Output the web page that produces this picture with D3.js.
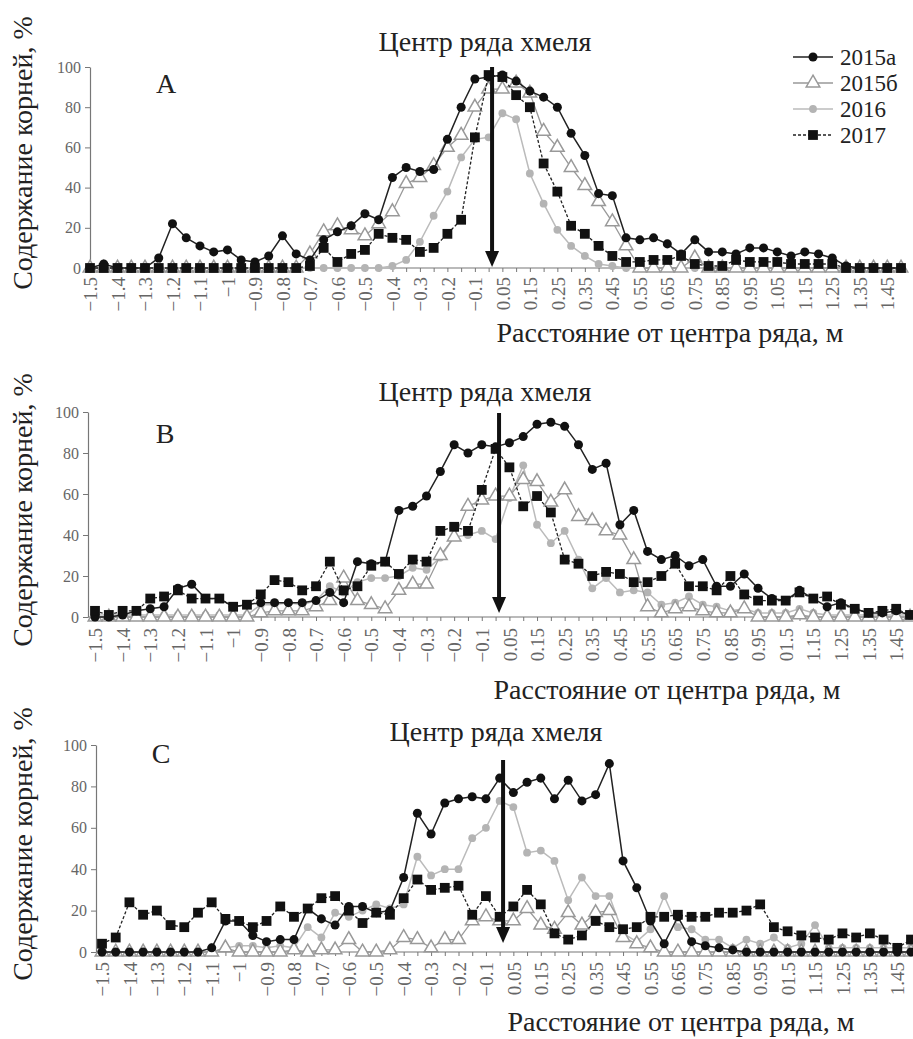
<!DOCTYPE html>
<html>
<head>
<meta charset="utf-8">
<script src="https://cdn.jsdelivr.net/npm/d3@7"></script>
<style>
body { margin: 0; background: #fff; }
svg { display: block; }
svg text { font-family: "Liberation Serif", serif; }
</style>
</head>
<body>
<svg id="chart" width="913" height="1039" font-family="Liberation Serif, serif"></svg>
<script>
// distance from the row centre, m (no zero point in the original table)
const distances = [-1.5, -1.45, -1.4, -1.35, -1.3, -1.25, -1.2, -1.15, -1.1, -1.05,
    -1.0, -0.95, -0.9, -0.85, -0.8, -0.75, -0.7, -0.65, -0.6, -0.55,
    -0.5, -0.45, -0.4, -0.35, -0.3, -0.25, -0.2, -0.15, -0.1, -0.05,
    0.05, 0.1, 0.15, 0.2, 0.25, 0.3, 0.35, 0.4, 0.45, 0.5,
    0.55, 0.6, 0.65, 0.7, 0.75, 0.8, 0.85, 0.9, 0.95, 1.0,
    1.05, 1.1, 1.15, 1.2, 1.25, 1.3, 1.35, 1.4, 1.45, 1.5];

const tickLabelsA = ["−1.5", "−1.4", "−1.3", "−1.2", "−1.1", "−1", "−0.9", "−0.8", "−0.7", "−0.6",
    "−0.5", "−0.4", "−0.3", "−0.2", "−0.1", "0.05", "0.15", "0.25", "0.35", "0.45",
    "0.55", "0.65", "0.75", "0.85", "0.95", "1.05", "1.15", "1.25", "1.35", "1.45"];
const tickLabelsBC = ["−1.5", "−1.4", "−1.3", "−1.2", "−1.1", "−1", "−0.9", "−0.8", "−0.7", "−0.6",
    "−0.5", "−0.4", "−0.3", "−0.2", "−0.1", "0.05", "0.15", "0.25", "0.35", "0.45",
    "0.55", "0.65", "0.75", "0.85", "0.95", "01.5", "1.15", "1.25", "1.35", "1.45"];
const yTicks = [0, 20, 40, 60, 80, 100];
const seriesNames = ["2015а", "2015б", "2016", "2017"];

// panel A
const a2015a = [0, 2, 0, 0, 0, 5, 22, 15, 11, 8, 9, 4, 3, 6, 16, 7, 4, 14, 18, 21,
    27, 24, 45, 50, 48, 49, 64, 80, 94, 95, 96, 93, 88, 85, 80, 67, 56, 37, 36, 15,
    14, 15, 12, 7, 14, 8, 8, 7, 10, 10, 8, 6, 8, 7, 5, 1, 0, 0, 0, 0];
const a2015b = [0, 0, 0, 0, 0, 0, 0, 0, 0, 0, 0, 0, 0, 0, 0, 0, 7, 18, 21, 19,
    16, 22, 28, 42, 45, 51, 60, 66, 80, 89, 89, 92, 87, 68, 60, 50, 41, 33, 23, 11,
    0, 0, 0, 0, 5, 0, 0, 0, 0, 0, 0, 0, 0, 0, 0, 0, 0, 0, 0, 0];
const a2016 = [0, 0, 0, 0, 0, 0, 0, 0, 0, 0, 0, 0, 0, 0, 0, 0, 0, 0, 0, 0,
    0, 0, 1, 4, 13, 26, 38, 55, 64, 65, 77, 74, 47, 32, 19, 11, 6, 2, 1, 0,
    0, 0, 0, 0, 0, 0, 0, 0, 0, 0, 0, 0, 0, 0, 0, 0, 0, 0, 0, 0];
const a2017 = [0, 0, 0, 0, 0, 0, 0, 0, 0, 0, 0, 0, 0, 0, 0, 0, 1, 10, 3, 7,
    9, 17, 15, 14, 8, 10, 17, 24, 65, 96, 95, 86, 80, 52, 38, 21, 17, 11, 6, 3,
    3, 4, 4, 6, 2, 1, 1, 4, 3, 3, 3, 2, 2, 2, 2, 0, 0, 0, 0, 0];

// panel B
const b2015a = [0, 0, 1, 3, 4, 5, 14, 16, 9, 9, 5, 6, 7, 7, 7, 7, 8, 12, 7, 27,
    26, 27, 52, 54, 59, 71, 84, 80, 84, 83, 85, 88, 94, 95, 93, 84, 72, 75, 45, 52,
    32, 28, 30, 25, 28, 15, 15, 21, 14, 9, 8, 13, 9, 5, 7, 4, 2, 2, 3, 1];
const b2015b = [0, 0, 0, 0, 0, 0, 0, 0, 0, 0, 0, 0, 2, 3, 3, 3, 5, 8, 19, 8,
    6, 4, 13, 16, 16, 30, 39, 54, 57, 59, 59, 67, 66, 56, 62, 49, 47, 42, 40, 28,
    5, 2, 4, 5, 3, 2, 2, 4, 0, 0, 0, 1, 0, 0, 0, 0, 0, 0, 0, 0];
const b2016 = [1, 1, 1, 1, 1, 1, 1, 1, 1, 1, 1, 1, 6, 6, 7, 6, 8, 15, 12, 17,
    19, 19, 20, 24, 23, 29, 39, 40, 42, 38, 58, 74, 45, 36, 42, 28, 14, 19, 12, 13,
    12, 6, 7, 10, 6, 5, 3, 4, 2, 2, 2, 4, 2, 1, 1, 1, 1, 1, 1, 1];
const b2017 = [3, 1, 3, 3, 9, 10, 13, 9, 9, 9, 5, 6, 11, 18, 17, 13, 15, 27, 13, 15,
    25, 27, 21, 28, 27, 42, 44, 42, 62, 82, 73, 54, 59, 51, 28, 26, 20, 22, 21, 17,
    17, 20, 26, 15, 15, 13, 20, 11, 8, 8, 8, 12, 9, 10, 6, 4, 2, 3, 4, 1];

// panel C
const c2015a = [0, 0, 0, 0, 0, 0, 0, 0, 2, 15, 15, 8, 5, 6, 6, 21, 16, 13, 22, 22,
    19, 20, 36, 67, 57, 72, 74, 75, 74, 84, 77, 82, 84, 74, 83, 73, 76, 91, 44, 31,
    15, 4, 17, 5, 3, 2, 1, 0, 0, 0, 0, 0, 0, 0, 0, 0, 0, 0, 0, 0];
const c2015b = [0, 0, 0, 0, 0, 0, 0, 0, 0, 2, 0, 0, 0, 0, 1, 0, 1, 1, 6, 0,
    0, 1, 7, 6, 2, 6, 6, 15, 17, 15, 15, 21, 13, 11, 19, 13, 19, 20, 7, 4,
    2, 0, 0, 0, 0, 0, 0, 0, 0, 0, 0, 0, 0, 0, 0, 0, 0, 0, 0, 0];
const c2016 = [0, 0, 0, 0, 0, 0, 0, 0, 0, 2, 3, 3, 2, 3, 2, 12, 7, 19, 17, 20,
    23, 21, 23, 46, 37, 40, 40, 55, 60, 73, 70, 48, 49, 44, 25, 36, 27, 27, 9, 5,
    11, 27, 12, 11, 6, 6, 2, 6, 4, 7, 2, 4, 13, 2, 2, 2, 2, 2, 2, 2];
const c2017 = [4, 7, 24, 18, 20, 13, 12, 19, 24, 16, 15, 12, 15, 22, 17, 21, 26, 27, 20, 14,
    19, 18, 26, 35, 30, 31, 32, 18, 27, 17, 22, 30, 23, 9, 6, 8, 15, 12, 11, 12,
    17, 17, 18, 17, 17, 19, 19, 20, 23, 12, 10, 8, 7, 6, 9, 7, 9, 6, 2, 6];

const seriesStyle = {
    "2015а": { line: "#222", width: 1.5, dash: null, symbol: d3.symbolCircle, size: 64, fill: "#111", stroke: "none" },
    "2015б": { line: "#999", width: 1.3, dash: null, symbol: d3.symbolTriangle, size: 80, fill: "#fff", stroke: "#999" },
    "2016": { line: "#bbb", width: 1.5, dash: null, symbol: d3.symbolCircle, size: 48, fill: "#b4b4b4", stroke: "none" },
    "2017": { line: "#222", width: 1.3, dash: "3,2", symbol: d3.symbolSquare, size: 96, fill: "#111", stroke: "none" }
};
const drawOrder = ["2016", "2015б", "2015а", "2017"];
const serif = "Liberation Serif, serif";

class RootPanel {
    constructor(svg, cfg) {
        this.svg = svg;
        this.cfg = cfg;
        this.x = d3.scalePoint().domain(distances).range(cfg.xRange);
        this.y = d3.scaleLinear().domain([0, 100]).range([cfg.y0, cfg.y100]);
        this.g = svg.append("g");
        this.drawAxes();
        this.drawSeries();
        this.drawArrow();
        this.drawTexts();
        if (cfg.legend) this.drawLegend();
    }

    drawAxes() {
        const { x, y, cfg, g } = this;
        const ya = g.append("g")
            .attr("transform", `translate(${cfg.axisX},0)`)
            .call(d3.axisLeft(y).tickValues(yTicks).tickSize(5).tickSizeOuter(0).tickPadding(cfg.yPad))
            .attr("font-family", serif).attr("font-size", 16);
        ya.select(".domain").attr("stroke", "#777").attr("stroke-width", 1.2);
        ya.selectAll(".tick line").attr("stroke", "#777");
        ya.selectAll(".tick text").attr("fill", "#666");

        const xa = g.append("g")
            .attr("transform", `translate(0,${cfg.y0})`)
            .call(d3.axisBottom(x).tickSize(4).tickFormat((d, i) => i % 2 ? "" : cfg.tickLabels[i / 2]))
            .attr("font-family", serif).attr("font-size", 19);
        xa.select(".domain").remove();
        xa.selectAll(".tick line").attr("stroke", "#777");
        xa.selectAll(".tick text")
            .attr("fill", "#666")
            .attr("transform", "rotate(-90)")
            .attr("text-anchor", "end")
            .attr("x", -cfg.xPad)
            .attr("y", 0)
            .attr("dy", "0.35em");
        g.append("line")
            .attr("x1", cfg.axisX).attr("x2", cfg.xRange[1] + 5)
            .attr("y1", cfg.y0).attr("y2", cfg.y0)
            .attr("stroke", "#777").attr("stroke-width", 1.2);
    }

    drawSeries() {
        const { x, y, cfg, g } = this;
        const line = d3.line().x((d, i) => x(distances[i])).y(d => y(d));
        drawOrder.forEach(name => {
            const st = seriesStyle[name];
            const values = cfg.series[name];
            g.append("path")
                .datum(values)
                .attr("d", line)
                .attr("fill", "none")
                .attr("stroke", st.line)
                .attr("stroke-width", st.width)
                .attr("stroke-dasharray", st.dash);
            g.append("g").selectAll("path")
                .data(values)
                .join("path")
                .attr("transform", (d, i) => `translate(${x(distances[i])},${y(d)})`)
                .attr("d", d3.symbol(st.symbol, st.size))
                .attr("fill", st.fill)
                .attr("stroke", st.stroke)
                .attr("stroke-width", 1.5);
        });
    }

    drawArrow() {
        const { x, y, cfg, g } = this;
        const ax = x(-0.05) + x.step() * 0.25;
        const tip = y(0) - cfg.arrowGap;
        g.append("line")
            .attr("x1", ax).attr("x2", ax)
            .attr("y1", cfg.arrowTop).attr("y2", tip - 12)
            .attr("stroke", "#111").attr("stroke-width", 4);
        g.append("path")
            .attr("d", `M${ax - 7},${tip - 16}L${ax + 7},${tip - 16}L${ax},${tip}Z`)
            .attr("fill", "#111");
    }

    drawTexts() {
        const { cfg, g } = this;
        const label = (x, y, txt, size) => g.append("text")
            .attr("x", x).attr("y", y)
            .attr("text-anchor", "middle")
            .attr("font-family", serif)
            .attr("font-size", size)
            .attr("fill", "#222")
            .text(txt);
        label(0, 0, "Содержание корней, %", 28)
            .attr("transform", `translate(32,${cfg.yTitleY}) rotate(-90)`);
        label(cfg.centerX, cfg.centerY, "Центр ряда хмеля", 28);
        label(cfg.xTitleX, cfg.xTitleY, "Расстояние от центра ряда, м", 28);
        label(cfg.letterX, cfg.letterY, cfg.letter, 28);
    }

    drawLegend() {
        const lg = this.g.append("g").attr("transform", "translate(793,57)");
        const rows = lg.selectAll("g")
            .data(seriesNames)
            .join("g")
            .attr("transform", (d, i) => `translate(0,${i * 26})`);
        rows.append("line")
            .attr("x1", 0).attr("x2", 40)
            .attr("stroke", d => seriesStyle[d].line)
            .attr("stroke-width", d => seriesStyle[d].width)
            .attr("stroke-dasharray", d => seriesStyle[d].dash);
        rows.append("path")
            .attr("transform", "translate(20,0)")
            .attr("d", d => d3.symbol(seriesStyle[d].symbol, seriesStyle[d].size)())
            .attr("fill", d => seriesStyle[d].fill)
            .attr("stroke", d => seriesStyle[d].stroke)
            .attr("stroke-width", 1.5);
        rows.append("text")
            .attr("x", 47).attr("dy", "0.33em")
            .attr("font-family", serif)
            .attr("font-size", 23)
            .attr("fill", "#222")
            .text(d => d);
    }
}

const svg = d3.select("#chart");
svg.append("rect").attr("width", 913).attr("height", 1039).attr("fill", "#fff");

new RootPanel(svg, {
    letter: "A", letterX: 166, letterY: 93,
    xRange: [90, 901], y0: 268, y100: 67, axisX: 90, yPad: 4, xPad: 9,
    tickLabels: tickLabelsA, arrowTop: 67, arrowGap: 1,
    yTitleY: 153, centerX: 485, centerY: 51, xTitleX: 670, xTitleY: 342,
    legend: true,
    series: { "2015а": a2015a, "2015б": a2015b, "2016": a2016, "2017": a2017 }
});
new RootPanel(svg, {
    letter: "B", letterX: 165, letterY: 443,
    xRange: [95, 910], y0: 617, y100: 412, axisX: 88, yPad: 4, xPad: 11,
    tickLabels: tickLabelsBC, arrowTop: 413, arrowGap: 4,
    yTitleY: 510, centerX: 485, centerY: 401, xTitleX: 667, xTitleY: 699,
    legend: false,
    series: { "2015а": b2015a, "2015б": b2015b, "2016": b2016, "2017": b2017 }
});
new RootPanel(svg, {
    letter: "C", letterX: 161, letterY: 763,
    xRange: [102, 911], y0: 952, y100: 745, axisX: 96, yPad: 4, xPad: 10,
    tickLabels: tickLabelsBC, arrowTop: 760, arrowGap: 9,
    yTitleY: 844, centerX: 496, centerY: 741, xTitleX: 681, xTitleY: 1031,
    legend: false,
    series: { "2015а": c2015a, "2015б": c2015b, "2016": c2016, "2017": c2017 }
});
</script>
</body>
</html>
